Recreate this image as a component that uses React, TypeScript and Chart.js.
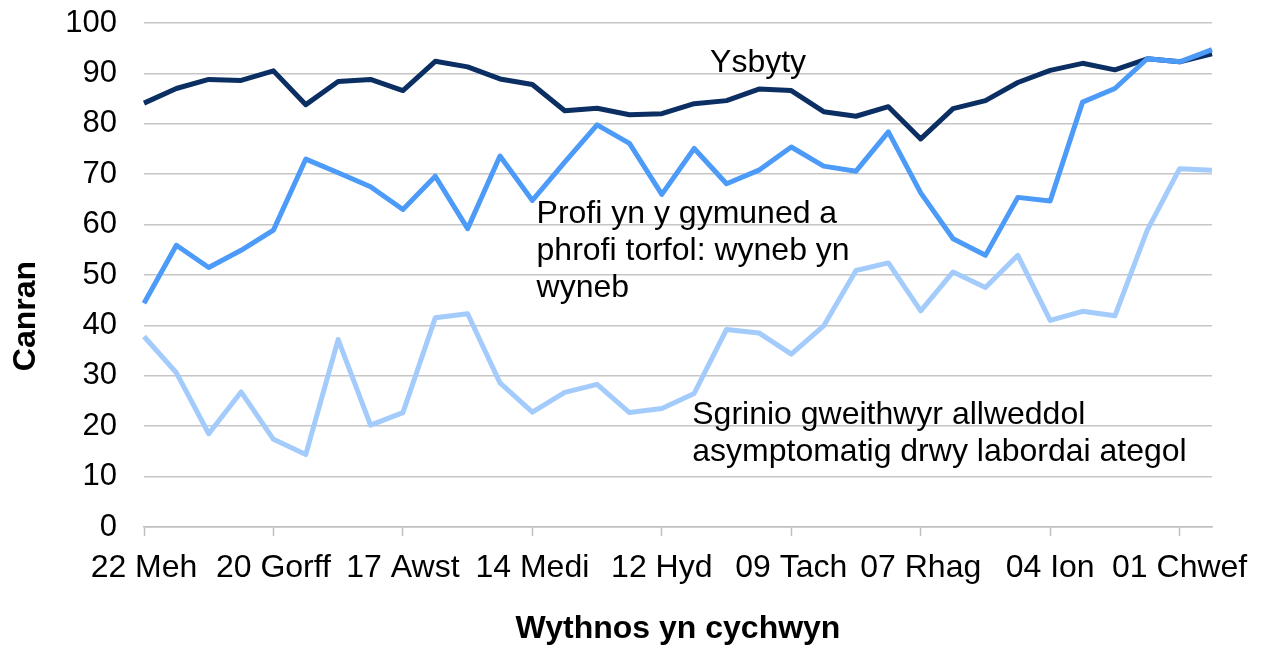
import React, { useEffect, useRef } from 'react';
import { Chart, registerables } from 'chart.js';

Chart.register(...registerables);

const FONT = '"Liberation Sans", Arial, Helvetica, sans-serif';

// Week-starting dates (x categories)
const weeks = [
  '22 Meh', '29 Meh', '06 Gorff', '13 Gorff', '20 Gorff', '27 Gorff',
  '03 Awst', '10 Awst', '17 Awst', '24 Awst', '31 Awst', '07 Medi',
  '14 Medi', '21 Medi', '28 Medi', '05 Hyd', '12 Hyd', '19 Hyd',
  '26 Hyd', '02 Tach', '09 Tach', '16 Tach', '23 Tach', '30 Tach',
  '07 Rhag', '14 Rhag', '21 Rhag', '28 Rhag', '04 Ion', '11 Ion',
  '18 Ion', '25 Ion', '01 Chwef', '08 Chwef',
];

const ysbyty = [
  84.1, 87.0, 88.8, 88.6, 90.5, 83.8, 88.4, 88.8, 86.6, 92.4, 91.3, 88.9,
  87.8, 82.6, 83.1, 81.8, 82.0, 84.0, 84.6, 86.9, 86.6, 82.4, 81.5, 83.4,
  77.0, 83.0, 84.6, 88.2, 90.6, 92.0, 90.7, 92.9, 92.3, 93.9,
];

const profi = [
  44.4, 55.9, 51.5, 54.9, 58.9, 73.0, 70.3, 67.5, 63.0, 69.6, 59.2, 73.6,
  64.8, 72.4, 79.8, 76.1, 66.0, 75.1, 68.1, 70.8, 75.4, 71.6, 70.6, 78.4,
  66.3, 57.2, 53.9, 65.4, 64.7, 84.3, 87.0, 92.9, 92.3, 94.7,
];

const sgrinio = [
  37.8, 30.6, 18.5, 26.8, 17.4, 14.4, 37.2, 20.2, 22.7, 41.5, 42.3, 28.6,
  22.8, 26.7, 28.3, 22.7, 23.5, 26.5, 39.2, 38.5, 34.3, 39.9, 50.9, 52.4,
  42.9, 50.6, 47.5, 53.9, 41.0, 42.8, 41.9, 58.9, 71.1, 70.8,
];

const seriesNames = [
  'Ysbyty',
  'Profi yn y gymuned a phrofi torfol: wyneb yn wyneb',
  'Sgrinio gweithwyr allweddol asymptomatig drwy labordai ategol',
];

const yTitle = 'Canran';
const xTitle = 'Wythnos yn cychwyn';

const ysbytyLines = ['Ysbyty'];
const profiLines = ['Profi yn y gymuned a', 'phrofi torfol: wyneb yn', 'wyneb'];
const sgrinioLines = ['Sgrinio gweithwyr allweddol', 'asymptomatig drwy labordai ategol'];

// label anchors: [x index, y value] for the first baseline
const labelAnchors = [
  { lines: ysbytyLines, at: [17.49, 90.3] },
  { lines: profiLines, at: [12.13, 60.4] },
  { lines: sgrinioLines, at: [16.94, 20.5] },
];

const textPlugin = {
  id: 'textLabels',
  afterDraw(chart: any) {
    const ctx = chart.ctx;
    const xs = chart.scales.x;
    const ys = chart.scales.y;
    const ca = chart.chartArea;
    ctx.save();
    ctx.fillStyle = '#000';
    ctx.font = `32px ${FONT}`;
    ctx.textAlign = 'left';
    ctx.textBaseline = 'alphabetic';
    labelAnchors.forEach((a) => {
      const px = xs.getPixelForValue(a.at[0]);
      const py = ys.getPixelForValue(a.at[1]);
      a.lines.forEach((l, i) => ctx.fillText(l, px, py + i * 37));
    });
    ctx.font = `bold 32px ${FONT}`;
    ctx.textAlign = 'center';
    ctx.fillText(xTitle, (ca.left + ca.right) / 2, 638);
    ctx.translate(35, 316);
    ctx.rotate(-Math.PI / 2);
    ctx.fillText(yTitle, 0, 0);
    ctx.restore();
  },
};

export default function App() {
  const ref = useRef<HTMLCanvasElement | null>(null);

  useEffect(() => {
    if (!ref.current) return;
    const chart = new Chart(ref.current, {
      type: 'line',
      data: {
        labels: weeks,
        datasets: [
          {
            label: seriesNames[2],
            data: sgrinio,
            borderColor: '#a3cbfb',
            backgroundColor: '#a3cbfb',
            borderWidth: 5,
          },
          {
            label: seriesNames[1],
            data: profi,
            borderColor: '#4d9bf8',
            backgroundColor: '#4d9bf8',
            borderWidth: 5,
          },
          {
            label: seriesNames[0],
            data: ysbyty,
            borderColor: '#0b2e63',
            backgroundColor: '#0b2e63',
            borderWidth: 5,
          },
        ],
      },
      options: {
        responsive: true,
        maintainAspectRatio: false,
        animation: false,
        layout: { padding: { left: 0, right: 51, top: 23, bottom: 0 } },
        plugins: {
          legend: { display: false },
          tooltip: { enabled: false },
        },
        elements: {
          point: { radius: 0 },
          line: { tension: 0, borderWidth: 5, borderJoinStyle: 'round', fill: false },
        },
        scales: {
          x: {
            type: 'category',
            offset: false,
            grid: {
              display: true,
              drawOnChartArea: false,
              drawTicks: true,
              tickLength: 9,
              tickWidth: 1.5,
              tickColor: (c: any) => (c.index % 4 === 0 ? '#c0c0c0' : 'rgba(0,0,0,0)'),
            },
            border: { display: true, color: '#c0c0c0', width: 1.5 },
            ticks: {
              autoSkip: false,
              maxRotation: 0,
              minRotation: 0,
              padding: 13,
              color: '#000',
              font: { size: 32, family: FONT },
              callback: (_v: any, i: number) => (i % 4 === 0 ? weeks[i] : ''),
            },
            afterFit: (s: any) => {
              s.height = 118;
              s.paddingLeft = 0;
              s.paddingRight = 0;
            },
          },
          y: {
            min: 0,
            max: 100,
            ticks: {
              stepSize: 10,
              padding: 27,
              color: '#000',
              font: { size: 31, family: FONT },
            },
            grid: { color: '#c6c6c6', lineWidth: 1.5, drawTicks: false },
            border: { display: false },
            afterFit: (s: any) => {
              s.width = 144;
              s.paddingTop = 0;
              s.paddingBottom = 0;
            },
          },
        },
      },
      plugins: [textPlugin],
    });
    return () => chart.destroy();
  }, []);

  return (
    <div style={{ position: 'absolute', left: 0, top: 0, width: 1263, height: 645, background: '#fff' }}>
      <canvas ref={ref} />
    </div>
  );
}
